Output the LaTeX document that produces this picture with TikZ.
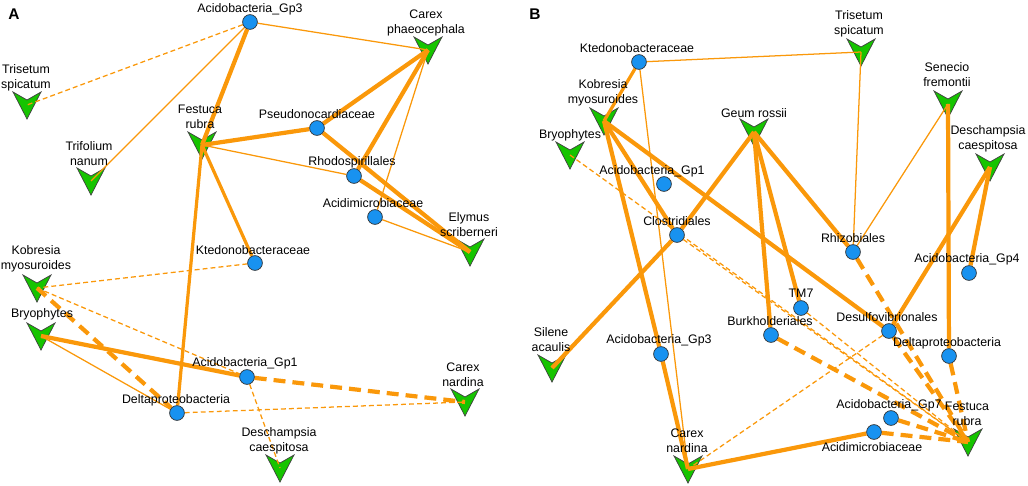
\documentclass[tikz,border=0pt]{standalone}
\usepackage{fontspec}
\setmainfont{Liberation Sans}
\usetikzlibrary{positioning}
\definecolor{linkorange}{RGB}{250,152,10}
\definecolor{taxblue}{RGB}{24,146,240}
\definecolor{plantgreen}{RGB}{22,196,0}
\pgfdeclarelayer{plantlayer}
\pgfdeclarelayer{edgelayer}
\pgfsetlayers{plantlayer,edgelayer,main}
\tikzset{
  taxon/.style={circle,draw=black!80,fill=taxblue,line width=0.5pt,minimum size=0.37cm,inner sep=0pt},
  lbl/.style={font=\fontsize{8.8}{10.6}\selectfont,align=center,inner sep=0pt},
  panel/.style={font=\fontsize{11}{13}\selectfont\bfseries,inner sep=0pt},
  plant/.pic={\path[draw=black!75,fill=plantgreen,line width=0.5pt] (-14,-13) -- (0,-5) -- (14,-13) -- (0,14) -- cycle;},
  strong/.style={draw=linkorange,line width=3pt},
  mid/.style={draw=linkorange,line width=2.3pt},
  weak/.style={draw=linkorange,line width=0.9pt},
  strongdash/.style={strong,dash pattern=on 8.5pt off 5pt},
  weakdash/.style={weak,dash pattern=on 3.5pt off 2.2pt}
}
\begin{document}
\begin{tikzpicture}[x=0.025cm,y=-0.025cm]
\useasboundingbox (0,0) rectangle (1028,486);
% panel A
\node[panel] (pa) at (14,14) {A};
\node[taxon] (a-gp3) at (250,22) {};
\node[taxon] (a-pseudo) at (317,128) {};
\node[taxon] (a-rhodo) at (354,176) {};
\node[taxon] (a-acidimi) at (375,217) {};
\node[taxon] (a-kted) at (255,263) {};
\node[taxon] (a-gp1) at (247,377) {};
\node[taxon] (a-delta) at (177,413) {};
\path (27,105) coordinate (a-tri) (91,181) coordinate (a-trif)
  (202,145) coordinate (a-fes) (428,50) coordinate (a-carp)
  (470,252) coordinate (a-ely) (37,288) coordinate (a-kob)
  (41,336) coordinate (a-bry) (465,402) coordinate (a-carn)
  (280,468) coordinate (a-des);
\node[lbl] (a-gp3-l) at (250,9) {Acidobacteria\_Gp3};
\node[lbl] (a-pseudo-l) at (317,114) {Pseudonocardiaceae};
\node[lbl] (a-rhodo-l) at (352,162) {Rhodospirillales};
\node[lbl] (a-acidimi-l) at (373,203) {Acidimicrobiaceae};
\node[lbl] (a-kted-l) at (253,250) {Ktedonobacteraceae};
\node[lbl] (a-gp1-l) at (245,363) {Acidobacteria\_Gp1};
\node[lbl] (a-delta-l) at (176,400) {Deltaproteobacteria};
\node[lbl] (a-tri-l) at (26,77.5) {Trisetum\\spicatum};
\node[lbl] (a-trif-l) at (89,153.5) {Trifolium\\nanum};
\node[lbl] (a-fes-l) at (200,117) {Festuca\\rubra};
\node[lbl] (a-carp-l) at (426,23) {Carex\\phaeocephala};
\node[lbl] (a-ely-l) at (469,224.5) {Elymus\\scriberneri};
\node[lbl] (a-kob-l) at (36,258.5) {Kobresia\\myosuroides};
\node[lbl] (a-bry-l) at (42,314) {Bryophytes};
\node[lbl] (a-carn-l) at (463,374.5) {Carex\\nardina};
\node[lbl] (a-des-l) at (279,440.5) {Deschampsia\\caespitosa};
% panel B
\node[panel] (pb) at (535,14) {B};
\node[taxon] (b-kted) at (639,62) {};
\node[taxon] (b-gp1) at (664,184) {};
\node[taxon] (b-clos) at (677,235) {};
\node[taxon] (b-rhiz) at (853,252) {};
\node[taxon] (b-gp4) at (969,273) {};
\node[taxon] (b-tm7) at (801,308) {};
\node[taxon] (b-burk) at (771,335) {};
\node[taxon] (b-gp3) at (661,354) {};
\node[taxon] (b-desulfo) at (889,331) {};
\node[taxon] (b-delta) at (949,356) {};
\node[taxon] (b-gp7) at (891,418) {};
\node[taxon] (b-acidimi) at (874,432) {};
\path (861,52) coordinate (b-tri) (948,104) coordinate (b-sen)
  (990,167) coordinate (b-des) (604,121) coordinate (b-kob)
  (570,155) coordinate (b-bry) (754,132) coordinate (b-geum)
  (552,368) coordinate (b-sil) (688,469) coordinate (b-carn)
  (968,442) coordinate (b-fes);
\node[lbl] (b-kted-l) at (637,48) {Ktedonobacteraceae};
\node[lbl] (b-gp1-l) at (652,171) {Acidobacteria\_Gp1};
\node[lbl] (b-clos-l) at (677,221) {Clostridiales};
\node[lbl] (b-rhiz-l) at (853,238) {Rhizobiales};
\node[lbl] (b-gp4-l) at (967,259) {Acidobacteria\_Gp4};
\node[lbl] (b-tm7-l) at (801,293) {TM7};
\node[lbl] (b-burk-l) at (770,321) {Burkholderiales};
\node[lbl] (b-gp3-l) at (659,340) {Acidobacteria\_Gp3};
\node[lbl] (b-desulfo-l) at (887,317) {Desulfovibrionales};
\node[lbl] (b-delta-l) at (947,343) {Deltaproteobacteria};
\node[lbl] (b-gp7-l) at (889,405) {Acidobacteria\_Gp7};
\node[lbl] (b-acidimi-l) at (872,447) {Acidimicrobiaceae};
\node[lbl] (b-tri-l) at (859,24) {Trisetum\\spicatum};
\node[lbl] (b-sen-l) at (947,74.5) {Senecio\\fremontii};
\node[lbl] (b-des-l) at (988,138.5) {Deschampsia\\caespitosa};
\node[lbl] (b-kob-l) at (603,92.5) {Kobresia\\myosuroides};
\node[lbl] (b-bry-l) at (570,135) {Bryophytes};
\node[lbl] (b-geum-l) at (754,113) {Geum rossii};
\node[lbl] (b-sil-l) at (551,339.5) {Silene\\acaulis};
\node[lbl] (b-carn-l) at (687,440.5) {Carex\\nardina};
\node[lbl] (b-fes-l) at (967,414) {Festuca\\rubra};
% plants
\begin{pgfonlayer}{plantlayer}
\foreach \p in {a-tri,a-trif,a-fes,a-carp,a-ely,a-kob,a-bry,a-carn,a-des,
  b-tri,b-sen,b-des,b-kob,b-bry,b-geum,b-sil,b-carn,b-fes}
  \pic at (\p) {plant};
\end{pgfonlayer}
% links
\begin{pgfonlayer}{edgelayer}
\path
(a-gp3) edge[weakdash] (a-tri)
(a-gp3) edge[weak] (a-trif)
(a-gp3) edge[strong] (a-fes)
(a-gp3) edge[weak] (a-carp)
(a-fes) edge[strong] (a-pseudo)
(a-fes) edge[weak] (a-rhodo)
(a-fes) edge[mid] (a-kted)
(a-fes) edge[mid] (a-delta)
(a-pseudo) edge[strong] (a-carp)
(a-pseudo) edge[strong] (a-ely)
(a-rhodo) edge[strong] (a-carp)
(a-rhodo) edge[strong] (a-ely)
(a-acidimi) edge[weak] (a-carp)
(a-acidimi) edge[weak] (a-ely)
(a-kted) edge[weakdash] (a-kob)
(a-kob) edge[weakdash] (a-gp1)
(a-kob) edge[strongdash] (a-delta)
(a-bry) edge[strong] (a-gp1)
(a-bry) edge[weak] (a-delta)
(a-gp1) edge[strongdash] (a-carn)
(a-gp1) edge[weakdash] (a-des)
(a-delta) edge[weakdash] (a-carn);
\path
(b-kted) edge[weak] (b-tri)
(b-kted) edge[mid] (b-kob)
(b-kted) edge[weak] (b-carn)
(b-tri) edge[weak] (b-rhiz)
(b-sen) edge[weak] (b-rhiz)
(b-sen) edge[strong] (b-delta)
(b-des) edge[strong] (b-gp4)
(b-des) edge[strong] (b-desulfo)
(b-kob) edge[strong] (b-gp3)
(b-gp3) edge[strong] (b-carn)
(b-kob) edge[strong] (b-clos)
(b-kob) edge[strong] (b-desulfo)
(b-bry) edge[weakdash] (b-fes)
(b-clos) edge[weakdash] (b-fes)
(b-clos) edge[strong] (b-geum)
(b-clos) edge[strong] (b-sil)
(b-geum) edge[strong] (b-burk)
(b-geum) edge[strong] (b-tm7)
(b-geum) edge[strong] (b-rhiz)
(b-rhiz) edge[strongdash] (b-fes)
(b-tm7) edge[weakdash] (b-fes)
(b-burk) edge[strongdash] (b-fes)
(b-desulfo) edge[strongdash] (b-fes)
(b-desulfo) edge[weakdash] (b-carn)
(b-delta) edge[strongdash] (b-fes)
(b-gp7) edge[strongdash] (b-fes)
(b-acidimi) edge[strongdash] (b-fes)
(b-acidimi) edge[strong] (b-carn);
\end{pgfonlayer}
\end{tikzpicture}
\end{document}
